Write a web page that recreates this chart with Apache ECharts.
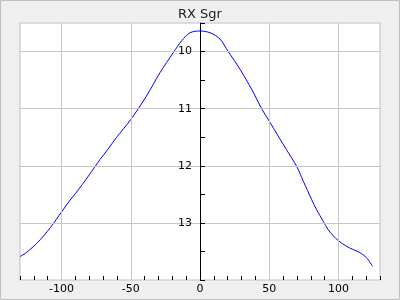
<!DOCTYPE html>
<html>
<head>
<meta charset="utf-8">
<script src="https://cdn.jsdelivr.net/npm/echarts@6/dist/echarts.min.js"></script>
<style>
html,body{margin:0;padding:0;background:#efefef;}
#chart{width:400px;height:300px;}
</style>
</head>
<body>
<div id="chart"></div>
<script>
const titleText = "RX Sgr";
const phases = [-130, -126, -122, -118, -113, -108, -100, -93.8, -90, -80, -72.2, -66.5, -60.5, -50, -38.7, -28.9, -19.3, -13.2, -7.2, 0, 7.2, 14.4, 20.4, 28.9, 37.3, 44.5, 50, 56.5, 62.5, 69.8, 74.6, 80.6, 84.2, 89, 92.6, 96, 99.8, 105.8, 110, 115.4, 120.3, 124.6];
const mags = [13.59, 13.53, 13.45, 13.36, 13.23, 13.08, 12.81, 12.60, 12.49, 12.16, 11.89, 11.71, 11.51, 11.19, 10.78, 10.37, 10.02, 9.81, 9.67, 9.64, 9.67, 9.78, 10.0, 10.31, 10.66, 11.0, 11.22, 11.48, 11.72, 12.01, 12.27, 12.59, 12.77, 12.97, 13.12, 13.22, 13.31, 13.41, 13.46, 13.52, 13.61, 13.76];
const xTickLabels = [-100, -50, 0, 50, 100];
const yTickLabels = [10, 11, 12, 13];

const chart = echarts.init(document.getElementById('chart'), null, {renderer: 'canvas'});
const font = 'DejaVu Sans';
const gridLineColor = '#c6c6c6';
const gridLeft = 20, gridRight = 20;
const xMin = -130, xMax = 130;
// distance in pixels from the grid's left edge to x = 0, used to put the y axis on zero
const plotWidth = 400 - gridLeft - gridRight;
const yAxisOffset = -plotWidth * (0 - xMin) / (xMax - xMin);

const curve = phases.map((p, i) => [p, mags[i]]);
const gridLines = xTickLabels.filter(v => v !== 0).map(v => ({xAxis: v}))
  .concat(yTickLabels.map(v => ({yAxis: v})));

chart.setOption({
  animation: false,
  backgroundColor: '#efefef',
  title: {
    text: titleText,
    left: 'center',
    top: 3,
    textStyle: {fontFamily: font, fontSize: 13, fontWeight: 'normal', color: '#222'}
  },
  graphic: [{
    type: 'rect', silent: true, z: 100,
    shape: {x: 0.5, y: 0.5, width: 399, height: 299},
    style: {fill: null, stroke: '#c0c0c0', lineWidth: 1}
  }],
  grid: {
    left: gridLeft, right: gridRight, top: 23, bottom: 20,
    show: true, backgroundColor: '#ffffff', borderColor: '#c0c0c0', borderWidth: 1,
    containLabel: false, outerBoundsMode: 'none'
  },
  xAxis: {
    type: 'value', min: xMin, max: xMax, interval: 10,
    axisLine: {show: false, onZero: false},
    axisTick: {show: true, inside: true, length: 4, lineStyle: {color: '#000', width: 1}},
    axisLabel: {
      fontFamily: font, fontSize: 11, color: '#000', margin: 4,
      formatter: v => (xTickLabels.indexOf(v) >= 0 ? String(v) : '')
    },
    splitLine: {show: false}
  },
  yAxis: {
    type: 'value', inverse: true, min: 9.5, max: 14, interval: 0.5, z: 5,
    position: 'left', offset: yAxisOffset,
    axisLine: {show: true, onZero: false, lineStyle: {color: '#000', width: 1}},
    axisTick: {show: true, inside: true, length: 5, lineStyle: {color: '#000', width: 1}},
    axisLabel: {
      fontFamily: font, fontSize: 11, color: '#000', margin: 8,
      formatter: v => (yTickLabels.indexOf(v) >= 0 ? String(v) : '')
    },
    splitLine: {show: false}
  },
  series: [
    {
      type: 'line', data: [], z: 1, silent: true,
      markLine: {
        silent: true, symbol: ['none', 'none'], label: {show: false},
        lineStyle: {color: gridLineColor, width: 1, type: 'solid'},
        emphasis: {disabled: true},
        data: gridLines
      }
    },
    {
      type: 'line', data: curve, z: 3,
      showSymbol: false, smooth: 0.3,
      lineStyle: {color: '#0000ff', width: 1},
      itemStyle: {color: '#0000ff'}
    }
  ]
});
</script>
</body>
</html>
